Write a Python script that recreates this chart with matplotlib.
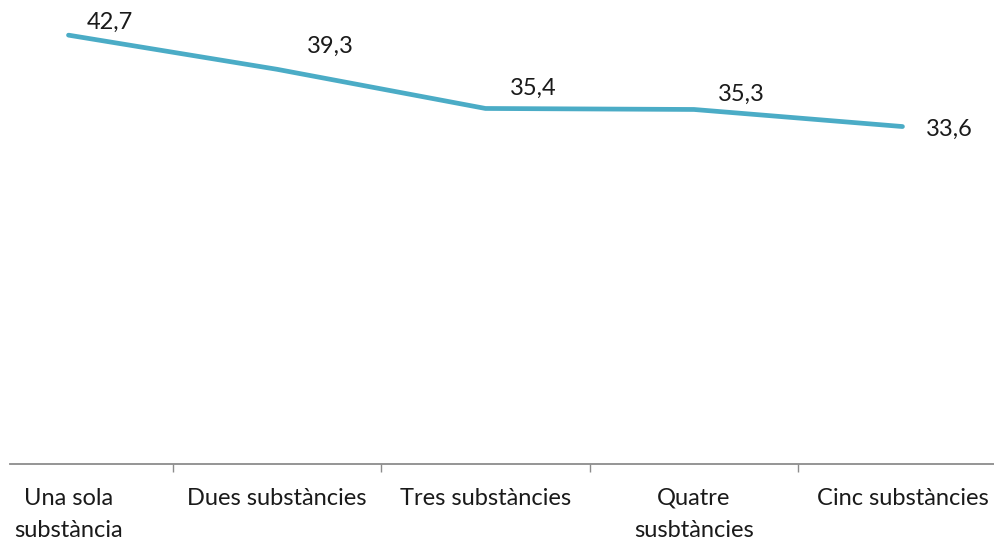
import numpy as np
import matplotlib.pyplot as plt

# categories and values
categories = ["Una sola\nsubstància", "Dues substàncies", "Tres substàncies",
              "Quatre\nsusbtàncies", "Cinc substàncies"]
values = [42.7, 39.3, 35.4, 35.3, 33.6]
labels = ["42,7", "39,3", "35,4", "35,3", "33,6"]

# label offsets in pixels (dx, dy), placed by eye
label_offsets = [(41, 13), (53, 23), (48, 20), (47, 15), (47, -3)]

plt.rcParams['font.family'] = ['Lato', 'DejaVu Sans']

fig = plt.figure(figsize=(9.94, 5.42), dpi=100)
ax = fig.add_axes([10 / 994, 78 / 542, 984 / 994, 464 / 542])

x = np.arange(len(values))
ax.plot(x, values, color="#4BACC6", lw=3.4, solid_capstyle="round",
        solid_joinstyle="round")

for xi, v, lab, (dx, dy) in zip(x, values, labels, label_offsets):
    ax.annotate(lab, (xi, v), xytext=(dx * 0.72, dy * 0.72), textcoords="offset points",
                ha="center", va="center", fontsize=17, color="#1a1a1a")

ax.set_xlim(-0.2806, 4.439)
ax.set_ylim(0, 46.2)

for s in ["top", "left", "right"]:
    ax.spines[s].set_visible(False)
ax.spines["bottom"].set_color("#8c8c8c")
ax.spines["bottom"].set_linewidth(1.3)

ax.set_yticks([])
ax.set_xticks(x)
ax.set_xticklabels(categories, fontsize=17, color="#1a1a1a", linespacing=1.65)
ax.tick_params(axis="x", which="major", length=0, pad=17)
ax.set_xticks(x[:-1] + 0.5, minor=True)
ax.tick_params(axis="x", which="minor", length=6, width=1, color="#8c8c8c")
for t in ax.get_xticklabels():
    t.set_verticalalignment("top")

fig.savefig("out.png", dpi=100)
